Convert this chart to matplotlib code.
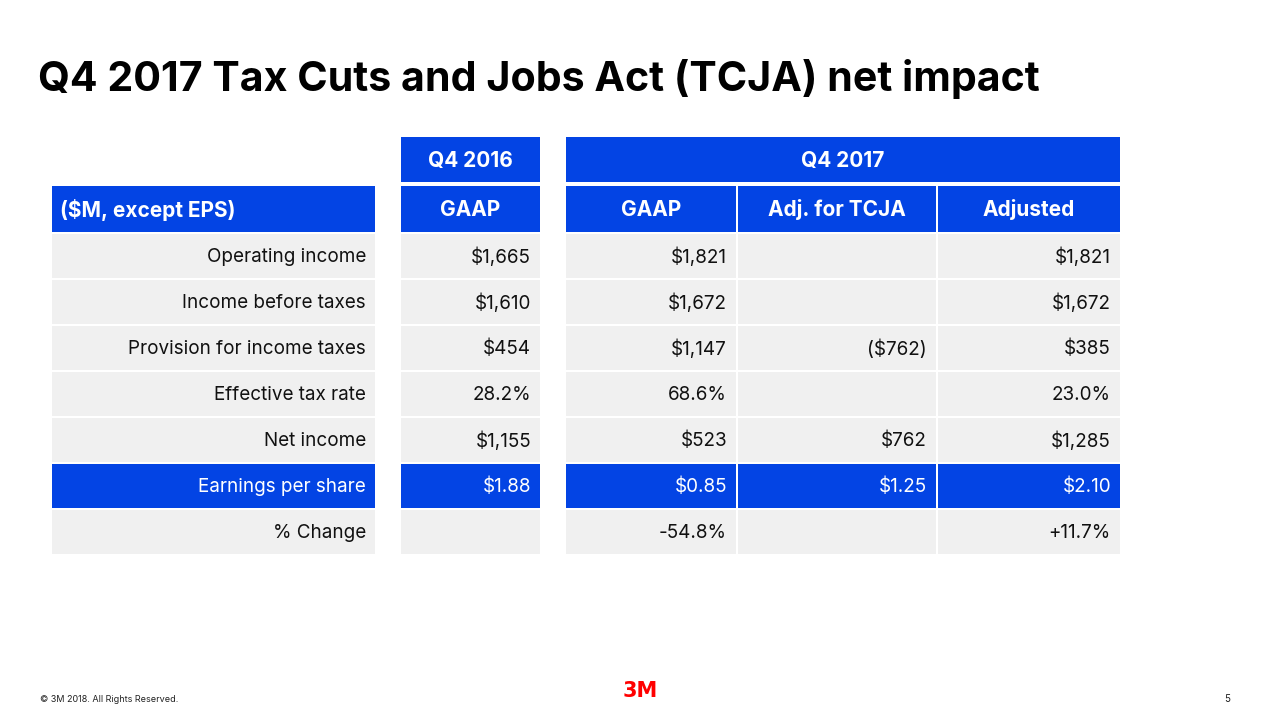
import matplotlib
matplotlib.use("Agg")
import matplotlib.pyplot as plt
from matplotlib.patches import Rectangle

plt.rcParams['font.family'] = ['Inter', 'DejaVu Sans']

title = "Q4 2017 Tax Cuts and Jobs Act (TCJA) net impact"
group_headers = ["Q4 2016", "Q4 2017"]
col_headers = ["($M, except EPS)", "GAAP", "GAAP", "Adj. for TCJA", "Adjusted"]
row_labels = ["Operating income", "Income before taxes", "Provision for income taxes",
              "Effective tax rate", "Net income", "Earnings per share", "% Change"]
q4_2016_gaap = ["$1,665", "$1,610", "$454", "28.2%", "$1,155", "$1.88", ""]
q4_2017_gaap = ["$1,821", "$1,672", "$1,147", "68.6%", "$523", "$0.85", "-54.8%"]
adj_tcja = ["", "", "($762)", "", "$762", "$1.25", ""]
adjusted = ["$1,821", "$1,672", "$385", "23.0%", "$1,285", "$2.10", "+11.7%"]
highlight_row = "Earnings per share"

BLUE = "#0344E4"
GRAY = "#F0F0F0"

fig = plt.figure(figsize=(12.8, 7.2), dpi=100)
ax = fig.add_axes([0, 0, 1, 1])
ax.set_xlim(0, 1280)
ax.set_ylim(720, 0)
ax.axis('off')

ax.text(38, 79, title, fontsize=29.6, fontweight='bold', color='#000000', va='center', ha='left')

# column geometry (left, right)
cols = [(52, 375), (401, 540), (566, 736), (738, 936), (938, 1120)]
group_spans = [(401, 540), (566, 1120)]
h1_top, h1_bot = 137, 182
h2_top, h2_bot = 186, 232
row_top0 = 234
row_pitch = 46
row_h = 44

for (l, r), g in zip(group_spans, group_headers):
    ax.add_patch(Rectangle((l, h1_top), r - l, h1_bot - h1_top, color=BLUE, lw=0))
    ax.text((l + r) / 2, (h1_top + h1_bot) / 2 + 1, g, color='white', fontsize=15,
            fontweight='bold', ha='center', va='center')

for i, ((l, r), h) in enumerate(zip(cols, col_headers)):
    ax.add_patch(Rectangle((l, h2_top), r - l, h2_bot - h2_top, color=BLUE, lw=0))
    if i == 0:
        ax.text(l + 8, (h2_top + h2_bot) / 2 + 1, h, color='white', fontsize=15,
                fontweight='bold', ha='left', va='center')
    else:
        ax.text((l + r) / 2, (h2_top + h2_bot) / 2 + 1, h, color='white', fontsize=15,
                fontweight='bold', ha='center', va='center')

data_cols = [row_labels, q4_2016_gaap, q4_2017_gaap, adj_tcja, adjusted]
for ri, lab in enumerate(row_labels):
    top = row_top0 + ri * row_pitch
    hl = lab == highlight_row
    bg = BLUE if hl else GRAY
    fg = 'white' if hl else '#111111'
    for ci, (l, r) in enumerate(cols):
        ax.add_patch(Rectangle((l, top), r - l, row_h, color=bg, lw=0))
        ax.text(r - 9, top + row_h / 2 + 1, data_cols[ci][ri], color=fg, fontsize=13.6,
                ha='right', va='center')

ax.text(40, 699, "© 3M 2018. All Rights Reserved.", fontsize=6.5, color='#222222',
        ha='left', va='center')
ax.text(640, 691, "3M", fontsize=15, fontweight='black', color='#FF0000',
        ha='center', va='center', family='DejaVu Sans')
ax.text(1227, 699, "5", fontsize=7, color='#222222', ha='center', va='center')

fig.savefig("out.png", dpi=100)
